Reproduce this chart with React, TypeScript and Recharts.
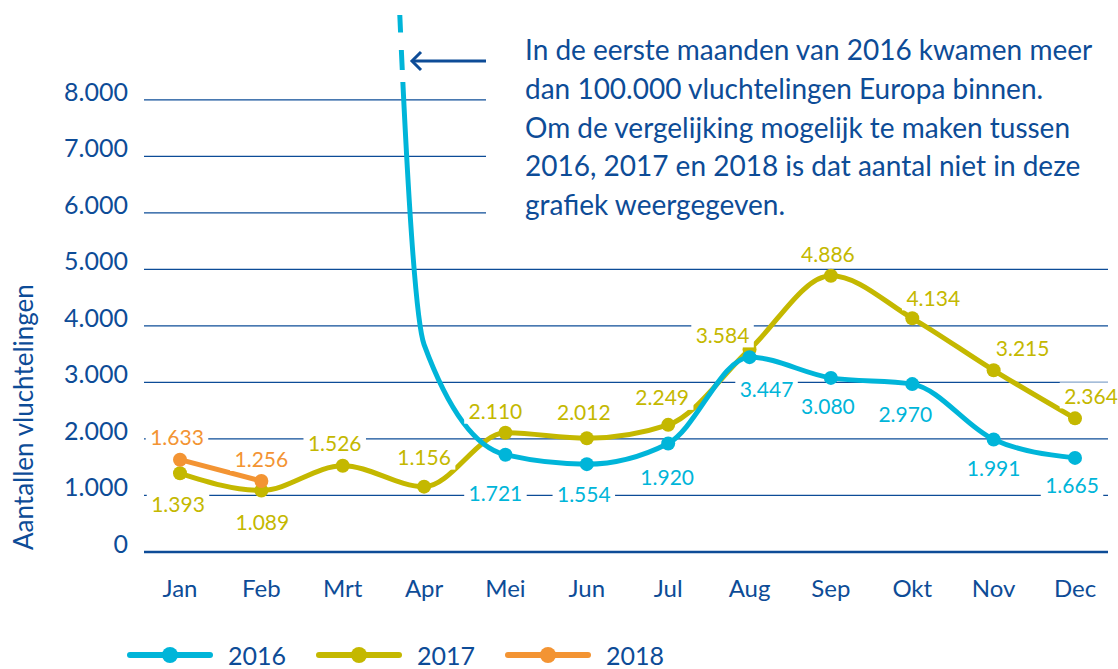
import { CartesianGrid, LabelList, Legend, Line, LineChart, ReferenceArea, XAxis, YAxis } from "recharts";

const months = ["Jan", "Feb", "Mrt", "Apr", "Mei", "Jun", "Jul", "Aug", "Sep", "Okt", "Nov", "Dec"];
// 2016 starts far above the chart in Jan-Mrt; only the tail is visible
const arrivals2016 = [null, null, 46000, 3670, 1721, 1554, 1920, 3447, 3080, 2970, 1991, 1665];
const arrivals2017 = [1393, 1089, 1526, 1156, 2110, 2012, 2249, 3584, 4886, 4134, 3215, 2364];
const arrivals2018 = [1633, 1256, null, null, null, null, null, null, null, null, null, null];
const yTicks = [0, 1000, 2000, 3000, 4000, 5000, 6000, 7000, 8000];
const unmarked2016 = ["Mrt", "Apr"];

const noteLines = [
  "In de eerste maanden van 2016 kwamen meer",
  "dan 100.000 vluchtelingen Europa binnen.",
  "Om de vergelijking mogelijk te maken tussen",
  "2016, 2017 en 2018 is dat aantal niet in deze",
  "grafiek weergegeven.",
];

const BLUE = "#0d4c97";
const CYAN = "#00b5d9";
const OLIVE = "#c4b800";
const ORANGE = "#f39433";
const FONT = "Lato, 'Open Sans', sans-serif";

// label placement around each point [dx, dy]
const offsets2016 = [null, null, null, null, [-10, 38], [-3, 29], [-1, 33], [17, 31], [-3, 28], [-7, 29], [0, 28], [-3, 27]];
const offsets2017 = [[-2, 30], [1, 31], [-8, -23], [0, -30], [-10, -22], [-3, -27], [-6, -28], [-27, -15], [-3, -22], [21, -21], [29, -23], [16, -23]];
const offsets2018 = [[-3, -23], [0, -23]];

const data = months.map((month, i) => ({
  month,
  y2016: arrivals2016[i],
  y2017: arrivals2017[i],
  y2018: arrivals2018[i],
}));

const fmt = (v: number) => String(v).replace(/\B(?=(\d{3})+(?!\d))/g, ".");

function YTick({ x, y, payload }: any) {
  return (
    <text x={x} y={y} dy={-9} textAnchor="end" dominantBaseline="central" fontSize={25} fill={BLUE} fontFamily={FONT}>
      {fmt(payload.value)}
    </text>
  );
}

function XTick({ x, y, payload }: any) {
  return (
    <text x={x} y={y} dy={33} textAnchor="middle" dominantBaseline="central" fontSize={24} fill={BLUE} fontFamily={FONT}>
      {payload.value}
    </text>
  );
}

function AxisTitle({ viewBox }: any) {
  const vb = viewBox ?? { x: 0, y: 15, width: 144, height: 537 };
  const x = vb.x + 33;
  const y = vb.y + vb.height - 2;
  return (
    <text x={x} y={y} transform={`rotate(-90 ${x} ${y})`} fontSize={26} fill={BLUE} fontFamily={FONT}>
      Aantallen vluchtelingen
    </text>
  );
}

function makeLabel(color: string, offsets: any[]) {
  return (props: any) => {
    const { index, value } = props;
    const off = offsets[index];
    if (value == null || !off) return null;
    const px = props.x ?? props.viewBox?.x;
    const py = props.y ?? props.viewBox?.y;
    const cx = px + off[0];
    const cy = py + off[1];
    const text = fmt(value);
    const w = text.length * 10.5 + 10;
    return (
      <g key={`lbl-${color}-${index}`}>
        <rect x={cx - w / 2} y={cy - 13} width={w} height={26} fill="#fff" />
        <text x={cx} y={cy} textAnchor="middle" dominantBaseline="central" fontSize={21} fill={color} fontFamily={FONT}>
          {text}
        </text>
      </g>
    );
  };
}

function makeDot(color: string, hidden: string[]) {
  return (props: any) => {
    const { cx, cy, index, payload, value } = props;
    if (value == null || hidden.includes(payload.month)) return <g key={`dot-${color}-${index}`} />;
    return <circle key={`dot-${color}-${index}`} cx={cx} cy={cy} r={7} fill={color} />;
  };
}

function LegendRow({ payload }: any) {
  const items = payload ?? [];
  return (
    <div style={{ display: "flex", alignItems: "center", fontFamily: FONT, height: 26 }}>
      {items.map((it: any) => (
        <div key={it.value} style={{ display: "flex", alignItems: "center", marginRight: 29 }}>
          <svg width={90} height={20}>
            <line x1={4} y1={10} x2={84} y2={10} stroke={it.color} strokeWidth={6} strokeLinecap="round" />
            <circle cx={44} cy={10} r={8} fill={it.color} />
          </svg>
          <span style={{ color: BLUE, fontSize: 25, lineHeight: "26px", marginLeft: 12 }}>{it.value}</span>
        </div>
      ))}
    </div>
  );
}

export default function App() {
  return (
    <div style={{ position: "absolute", left: 0, top: 0, width: 1118, height: 669, background: "#fff" }}>
      <LineChart width={1118} height={669} data={data} margin={{ top: 15, right: 10, bottom: 0, left: 0 }}>
        <CartesianGrid horizontal vertical={false} horizontalValues={yTicks} stroke={BLUE} strokeWidth={1.3} />
        <XAxis
          dataKey="month"
          interval={0}
          height={117}
          padding={{ left: 36, right: 33 }}
          axisLine={{ stroke: BLUE, strokeWidth: 2.5 }}
          tickLine={false}
          tickSize={0}
          tick={<XTick />}
        />
        <YAxis
          width={144}
          domain={[0, 9500]}
          ticks={yTicks}
          allowDataOverflow
          interval={0}
          axisLine={false}
          tickLine={false}
          tickSize={0}
          tickMargin={16}
          tick={<YTick />}
          label={<AxisTitle />}
        />
        <Line
          type="monotone"
          dataKey="y2017"
          name="2017"
          stroke={OLIVE}
          strokeWidth={5}
          dot={makeDot(OLIVE, [])}
          activeDot={false}
          isAnimationActive={false}
        >
          <LabelList dataKey="y2017" content={makeLabel(OLIVE, offsets2017)} />
        </Line>
        <Line
          type="monotone"
          dataKey="y2016"
          name="2016"
          stroke={CYAN}
          strokeWidth={5}
          dot={makeDot(CYAN, unmarked2016)}
          activeDot={false}
          isAnimationActive={false}
        >
          <LabelList dataKey="y2016" content={makeLabel(CYAN, offsets2016)} />
        </Line>
        <Line
          type="monotone"
          dataKey="y2018"
          name="2018"
          stroke={ORANGE}
          strokeWidth={5}
          dot={makeDot(ORANGE, [])}
          activeDot={false}
          isAnimationActive={false}
        >
          <LabelList dataKey="y2018" content={makeLabel(ORANGE, offsets2018)} />
        </Line>
        {/* gaps that make the off-scale part of 2016 look dashed */}
        <ReferenceArea x1="Mrt" x2="Apr" y1={8880} y2={9190} fill="#fff" fillOpacity={1} stroke="none" zIndex={450} />
        <ReferenceArea x1="Mrt" x2="Apr" y1={8314} y2={8527} fill="#fff" fillOpacity={1} stroke="none" zIndex={450} />
        <Legend
          layout="horizontal"
          verticalAlign="middle"
          align="center"
          wrapperStyle={{ top: 642, left: 126, width: 620, height: 26 }}
          content={<LegendRow />}
        />
      </LineChart>
      <svg style={{ position: "absolute", left: 400, top: 45, overflow: "visible" }} width={100} height={32}>
        <line x1={90} y1={16} x2={14} y2={16} stroke={BLUE} strokeWidth={3} />
        <polyline points="21,7 12,16 21,25" fill="none" stroke={BLUE} strokeWidth={3} />
      </svg>
      <div
        style={{
          position: "absolute",
          left: 486,
          top: 30,
          width: 624,
          background: "#fff",
          paddingLeft: 39,
          boxSizing: "border-box",
          color: BLUE,
          fontFamily: FONT,
          fontSize: 28,
          lineHeight: "38.8px",
          whiteSpace: "nowrap",
        }}
      >
        {noteLines.map((l) => (
          <div key={l}>{l}</div>
        ))}
      </div>
    </div>
  );
}
